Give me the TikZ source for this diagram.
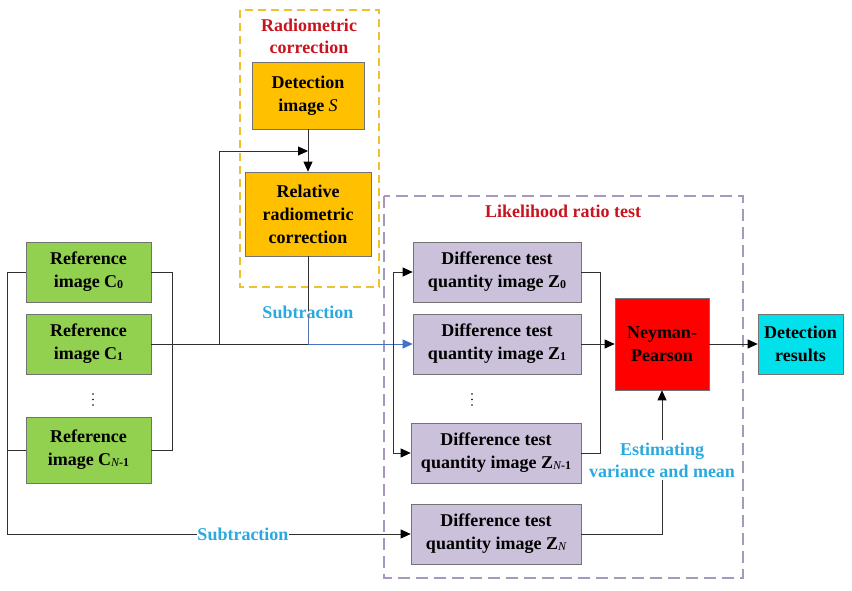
\documentclass[tikz,border=0pt]{standalone}
\usepackage{fontspec}
\setmainfont{Liberation Serif}
\usetikzlibrary{arrows.meta}
\definecolor{gbox}{HTML}{92D050}
\definecolor{obox}{HTML}{FFC000}
\definecolor{pbox}{HTML}{CCC1DA}
\definecolor{rbox}{HTML}{FF0000}
\definecolor{cbox}{HTML}{00E1EC}
\definecolor{lblue}{HTML}{29A9DF}
\definecolor{tred}{HTML}{C8141E}
\definecolor{ydash}{HTML}{F0C030}
\definecolor{pdash}{HTML}{A898C0}
\definecolor{wire}{HTML}{303030}
\definecolor{bwire}{HTML}{4472C4}
\newcommand{\mysub}[1]{{\fontsize{12}{12}\selectfont\raisebox{-0.5pt}{#1}}}
\newcommand{\myN}{{\normalfont\itshape N}}
\begin{document}
\begin{tikzpicture}[x=1pt,y=-1pt,
  box/.style={draw=black!55,line width=0.7pt,inner sep=0pt,align=center,
    font=\fontsize{18}{23}\selectfont\bfseries},
  grn/.style={box,fill=gbox,minimum width=125pt},
  org/.style={box,fill=obox},
  prp/.style={box,fill=pbox,minimum width=170pt,minimum height=60pt},
  lbl/.style={font=\fontsize{18}{22}\selectfont\bfseries,align=center,inner sep=1pt},
  wln/.style={draw=wire,line width=0.8pt},
  arr/.style={wln,-{Triangle[length=10pt,width=9pt,fill=black,color=black]}},
  barr/.style={draw=bwire,line width=0.8pt,-{Triangle[length=10pt,width=9pt]}},
  dotstyle/.style={fill=black,circle,inner sep=0pt,minimum size=1.6pt}
]
\useasboundingbox (0,0) rectangle (852,591);
% dashed group boxes
\draw[ydash,line width=1.3pt,dash pattern=on 8pt off 5pt] (240,10) rectangle (379,287);
\draw[pdash,line width=1.3pt,dash pattern=on 12pt off 6pt] (384,196) rectangle (743,578);
\node[lbl,text=tred] (titR) at (309,36) {Radiometric\\correction};
\node[lbl,text=tred] (titL) at (563,211) {Likelihood ratio test};
% green boxes
\node[grn,minimum height=60pt] (c0) at (88.5,272) {Reference\\image C\mysub{0}};
\node[grn,minimum height=60pt] (c1) at (88.5,344) {Reference\\image C\mysub{1}};
\node[grn,minimum height=66pt] (cn1) at (88.5,450) {Reference\\image C\mysub{\myN-1}};
\foreach \k/\yy in {1/394,2/399.5,3/405} {\node[dotstyle] (dc\k) at (93,\yy) {};}
% orange boxes
\node[org,minimum width=112pt,minimum height=67pt] (s) at (308,95.5) {Detection\\image {\normalfont\itshape S}};
\node[org,minimum width=126pt,minimum height=84pt] (rel) at (308,214) {Relative\\radiometric\\correction};
% purple boxes
\node[prp,minimum width=168pt] (z0) at (497,272) {Difference test\\quantity image Z\mysub{0}};
\node[prp,minimum width=168pt] (z1) at (497,344) {Difference test\\quantity image Z\mysub{1}};
\foreach \k/\yy in {1/394,2/399.5,3/405} {\node[dotstyle] (dz\k) at (472,\yy) {};}
\node[prp] (zn1) at (496,453) {Difference test\\quantity image Z\mysub{\myN-1}};
\node[prp] (zn) at (496,534) {Difference test\\quantity image Z\mysub{\myN}};
\node[box,fill=rbox,minimum width=94pt,minimum height=92pt] (np) at (662,344) {Neyman-\\Pearson};
\node[box,fill=cbox,minimum width=85pt,minimum height=60pt] (dr) at (800.5,344) {Detection\\results};
% coordinates
\coordinate (lb0) at (7,272);
\coordinate (lbN) at (7,534);
\coordinate (lbm) at (7,450);
\coordinate (rb0) at (172,272);
\coordinate (rbN) at (172,450);
\coordinate (sp) at (219,344);
\coordinate (spt) at (219,151);
\coordinate (jn) at (308,151);
\coordinate (sj) at (308,344);
\coordinate (zb0) at (393,272);
\coordinate (zbN) at (393,453);
\coordinate (zr0) at (600,272);
\coordinate (zrN) at (600,453);
% connectors
\draw[wln] (c0.west) -- (lb0) -- (lbN);
\draw[wln] (cn1.west) -- (lbm);
\draw[arr] (lbN) -- (zn.west);
\node[lbl,text=lblue,fill=white,inner sep=0.5pt] (subB) at (243,534) {Subtraction};
\draw[wln] (c0.east) -- (rb0) -- (rbN) -- (cn1.east);
\draw[wln] (c1.east) -- (sj);
\draw[barr] (sj) -- (z1.west);
\draw[arr] (sp) -- (spt) -- (jn);
\draw[arr] (s.south) -- (rel.north);
\node[lbl,text=lblue] (subT) at (308,312) {Subtraction};
\draw[wln] (rel.south) -- ([yshift=-7pt]subT.north);
\draw[draw=bwire!70!gray,line width=0.8pt] ([yshift=5pt]subT.south) -- (sj);
\draw[wln] (zb0) -- (zbN);
\draw[arr] (zb0) -- (z0.west);
\draw[arr] (zbN) -- (zn1.west);
\draw[wln] (z0.east) -- (zr0) -- (zrN) -- (zn1.east);
\draw[arr] (z1.east) -- (np.west);
\draw[arr] (np.east) -- (dr.west);
\node[lbl,text=lblue,inner sep=0pt] (est) at (662,460) {Estimating\\variance and mean};
\draw[wln] (zn.east) -| ([yshift=-2pt]est.south);
\draw[arr] ([yshift=2pt]est.north) -- (np.south);
\end{tikzpicture}
\end{document}
